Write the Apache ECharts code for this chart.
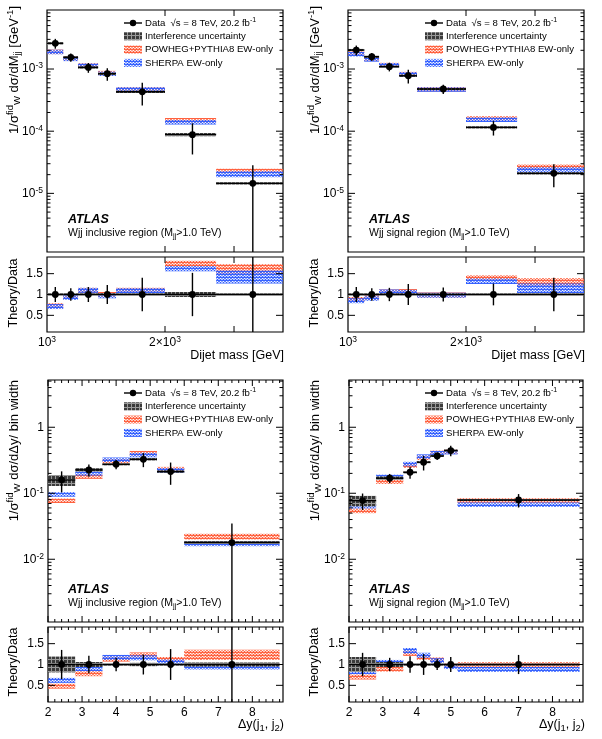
<!DOCTYPE html>
<html><head><meta charset="utf-8">
<script src="https://cdn.jsdelivr.net/npm/echarts@6/dist/echarts.min.js"></script>
<style>html,body{margin:0;padding:0;background:#fff}#c{width:602px;height:739px}</style>
</head><body><div id="c"></div>
<script>
// ---------------- DATA ----------------
const mjjEdges = [1000, 1100, 1200, 1350, 1500, 2000, 2700, 4000];
const dyEdgesIncl = [2.0, 2.8, 3.6, 4.4, 5.2, 6.0, 8.8];
const dyEdgesSig = [2.0, 2.8, 3.6, 4.0, 4.4, 4.8, 5.2, 8.8];

// Top-left: dijet mass, inclusive region
const mjjInclData = [2.59e-3, 1.54e-3, 1.06e-3, 8.4e-4, 4.3e-4, 8.8e-5, 1.45e-5];
const mjjInclDataErr = [0.18, 0.15, 0.18, 0.23, 0.40, 0.52, 0.95];
const mjjInclPowheg = [1.89e-3, 1.49e-3, 1.14e-3, 8.6e-4, 4.7e-4, 1.50e-4, 2.30e-5];
const mjjInclSherpa = [1.88e-3, 1.46e-3, 1.13e-3, 8.4e-4, 4.7e-4, 1.40e-4, 2.05e-5];
const mjjInclPowhegErr = [0.05, 0.05, 0.05, 0.05, 0.04, 0.04, 0.08];
const mjjInclSherpaErr = [0.05, 0.05, 0.05, 0.05, 0.04, 0.04, 0.11];
const mjjInclInterfErr = [0.01, 0.01, 0.01, 0.01, 0.015, 0.06, 0.02];
const mjjInclRatioPowheg = [0.73, 0.95, 1.10, 1.00, 1.10, 1.74, 1.60];
const mjjInclRatioSherpa = [0.71, 0.93, 1.10, 0.97, 1.09, 1.62, 1.42];

// Top-right: dijet mass, signal region
const mjjSigData = [2.02e-3, 1.58e-3, 1.09e-3, 7.8e-4, 4.77e-4, 1.15e-4, 2.1e-5];
const mjjSigDataErr = [0.18, 0.15, 0.16, 0.25, 0.17, 0.26, 0.40];
const mjjSigPowheg = [1.78e-3, 1.46e-3, 1.16e-3, 8.3e-4, 4.75e-4, 1.62e-4, 2.7e-5];
const mjjSigSherpa = [1.73e-3, 1.43e-3, 1.15e-3, 8.2e-4, 4.7e-4, 1.53e-4, 2.4e-5];
const mjjSigPowhegErr = [0.05, 0.05, 0.04, 0.04, 0.03, 0.04, 0.08];
const mjjSigSherpaErr = [0.05, 0.05, 0.04, 0.04, 0.03, 0.05, 0.10];
const mjjSigInterfErr = [0.01, 0.01, 0.01, 0.01, 0.01, 0.015, 0.02];
const mjjSigRatioPowheg = [0.88, 0.93, 1.06, 1.07, 0.99, 1.40, 1.29];
const mjjSigRatioSherpa = [0.85, 0.91, 1.06, 1.05, 0.98, 1.32, 1.15];

// Bottom-left: rapidity separation, inclusive region
const dyInclData = [0.159, 0.226, 0.275, 0.327, 0.213, 0.0179];
const dyInclDataErr = [0.35, 0.21, 0.16, 0.24, 0.37, 0.95];
const dyInclPowheg = [0.077, 0.179, 0.305, 0.405, 0.232, 0.0221];
const dyInclSherpa = [0.096, 0.201, 0.322, 0.380, 0.222, 0.0170];
const dyInclPowhegErr = [0.05, 0.05, 0.04, 0.04, 0.04, 0.10];
const dyInclSherpaErr = [0.05, 0.05, 0.04, 0.04, 0.04, 0.05];
const dyInclInterfErr = [0.19, 0.06, 0.02, 0.04, 0.02, 0.05];
const dyInclRatioPowheg = [0.48, 0.78, 1.13, 1.23, 1.12, 1.23];
const dyInclRatioSherpa = [0.62, 0.90, 1.17, 1.16, 1.06, 0.94];

// Bottom-right: rapidity separation, signal region
const dySigData = [0.0774, 0.169, 0.208, 0.295, 0.368, 0.443, 0.079];
const dySigDataErr = [0.28, 0.16, 0.20, 0.25, 0.13, 0.18, 0.23];
const dySigPowheg = [0.054, 0.150, 0.262, 0.345, 0.410, 0.425, 0.078];
const dySigSherpa = [0.064, 0.177, 0.278, 0.360, 0.405, 0.420, 0.067];
const dySigPowhegErr = [0.06, 0.05, 0.05, 0.05, 0.04, 0.03, 0.02];
const dySigSherpaErr = [0.05, 0.05, 0.05, 0.05, 0.04, 0.03, 0.02];
const dySigInterfErr = [0.18, 0.06, 0.02, 0.02, 0.02, 0.02, 0.02];
const dySigRatioPowheg = [0.70, 0.89, 1.27, 1.17, 1.11, 0.97, 1.00];
const dySigRatioSherpa = [0.83, 1.05, 1.33, 1.22, 1.09, 0.95, 0.88];

// Axis ranges and ticks
const mjjRange = [1000, 4000];
const dyRange = [2, 8.9];
const xsecMjjRange = [1.14e-6, 8.9e-3];
const xsecDyRange = [1.12e-3, 5.2];
const ratioRange = [0.1, 1.9];
const massTickValues = [1000, 2000];
const massTickLabels = ['10{sup|3}', '2×10{sup|3}'];
const massMajorTicks = [2000, 3000];
const dyTickValues = [2, 3, 4, 5, 6, 7, 8];
const dyTickLabels = ['2', '3', '4', '5', '6', '7', '8'];
const ratioTickValues = [0.5, 1, 1.5];
const ratioTickLabels = ['0.5', '1', '1.5'];
const xsecMjjTickValues = [1e-5, 1e-4, 1e-3];
const xsecMjjTickLabels = ['10{sup|-5}', '10{sup|-4}', '10{sup|-3}'];
const xsecDyTickValues = [1e-2, 1e-1, 1];
const xsecDyTickLabels = ['10{sup|-2}', '10{sup|-1}', '1'];

// ---------------- STYLE HELPERS ----------------
const FF = '"Liberation Sans", Arial, Helvetica, sans-serif';
function zigzag(color) {
  const c = document.createElement('canvas'); c.width = 6; c.height = 3;
  const g = c.getContext('2d');
  g.strokeStyle = color; g.lineWidth = 1.4;
  g.beginPath(); g.moveTo(0, 2.4); g.lineTo(1.5, 0.6); g.lineTo(3, 2.4); g.lineTo(4.5, 0.6); g.lineTo(6, 2.4); g.stroke();
  return { image: c, repeat: 'repeat' };
}
function gridPat() {
  const c = document.createElement('canvas'); c.width = 4; c.height = 4;
  const g = c.getContext('2d');
  g.fillStyle = '#3a3a3a'; g.fillRect(0, 0, 4, 4);
  g.fillStyle = '#9a9a9a'; g.fillRect(3, 0, 1, 4); g.fillRect(0, 3, 4, 1);
  return { image: c, repeat: 'repeat' };
}
const redFill = zigzag('rgb(255,95,60)');
const blueFill = zigzag('rgb(50,95,255)');
const interfFill = gridPat();

const rich = {
  sup: { fontSize: 8.5, fontFamily: FF, verticalAlign: 'top', lineHeight: 9 },
  sub: { fontSize: 8.5, fontFamily: FF, verticalAlign: 'bottom', lineHeight: 9 }
};
const richTitle = {
  sup: { fontSize: 9.5, fontFamily: FF, verticalAlign: 'top', lineHeight: 9 },
  sub: { fontSize: 9.5, fontFamily: FF, verticalAlign: 'bottom', lineHeight: 9 }
};

function clampY(y, cs) { return Math.max(cs.y, Math.min(cs.y + cs.height, y)); }

function bandRender(fill, minH) {
  return function (params, api) {
    const cs = params.coordSys;
    const a = api.coord([api.value(0), api.value(3)]);
    const b = api.coord([api.value(1), api.value(2)]);
    let top = a[1], bot = b[1];
    if (bot - top < minH) { const m = (top + bot) / 2; top = m - minH / 2; bot = m + minH / 2; }
    top = clampY(top, cs); bot = clampY(bot, cs);
    return { type: 'rect', shape: { x: a[0], y: top, width: b[0] - a[0], height: bot - top }, style: { fill: fill } };
  };
}
function dataRender(params, api) {
  const cs = params.coordSys;
  const x0 = api.value(0), x1 = api.value(1), c = api.value(2), lo = api.value(3), hi = api.value(4);
  const xm = (x0 + x1) / 2;
  const pL = api.coord([x0, c]), pR = api.coord([x1, c]), pC = api.coord([xm, c]);
  const yLo = clampY(api.coord([xm, lo])[1], cs), yHi = clampY(api.coord([xm, hi])[1], cs);
  return { type: 'group', children: [
    { type: 'line', shape: { x1: pL[0], y1: pL[1], x2: pR[0], y2: pR[1] }, style: { stroke: '#000', lineWidth: 1.4 } },
    { type: 'line', shape: { x1: pC[0], y1: yHi, x2: pC[0], y2: yLo }, style: { stroke: '#000', lineWidth: 1.4 } },
    { type: 'circle', shape: { cx: pC[0], cy: pC[1], r: 3.4 }, style: { fill: '#000' } }
  ] };
}

function custom(gi, rows, render, z, nDim) {
  return { type: 'custom', xAxisIndex: gi, yAxisIndex: gi, z: z, silent: true, animation: false,
    encode: { x: [0, 1], y: nDim === 5 ? [2, 3, 4] : [2, 3] }, data: rows, renderItem: render };
}

function panelSeries(gMain, gRatio, edges, d) {
  const s = [];
  const band = (vals, errs) => vals.map((v, i) => [edges[i], edges[i + 1], v * (1 - errs[i]), v * (1 + errs[i])]);
  s.push(custom(gMain, band(d.powheg, d.powhegErr), bandRender(redFill, 4.5), 2, 4));
  s.push(custom(gMain, band(d.sherpa, d.sherpaErr), bandRender(blueFill, 4.5), 3, 4));
  s.push(custom(gMain, band(d.data, d.interfErr), bandRender(interfFill, 2.2), 4, 4));
  s.push(custom(gMain, d.data.map((v, i) => [edges[i], edges[i + 1], v, v * (1 - d.dataErr[i]), v * (1 + d.dataErr[i])]), dataRender, 5, 5));
  s.push(custom(gRatio, band(d.ratioPowheg, d.powhegErr), bandRender(redFill, 5), 2, 4));
  s.push(custom(gRatio, band(d.ratioSherpa, d.sherpaErr), bandRender(blueFill, 5), 3, 4));
  s.push(custom(gRatio, d.data.map((v, i) => [edges[i], edges[i + 1], 1 - d.interfErr[i], 1 + d.interfErr[i]]), bandRender(interfFill, 2.2), 4, 4));
  s.push(custom(gRatio, d.data.map((v, i) => [edges[i], edges[i + 1], 1, 1 - d.dataErr[i], 1 + d.dataErr[i]]), dataRender, 5, 5));
  return s;
}

function logMinor(range) {
  const out = [];
  for (let n = Math.floor(Math.log10(range[0])); n <= Math.ceil(Math.log10(range[1])); n++)
    for (let k = 2; k <= 9; k++) { const v = k * Math.pow(10, n); if (v > range[0] && v < range[1]) out.push(v); }
  return out;
}
function linMinor(range, step, majors) {
  const out = [];
  for (let v = Math.ceil(range[0] / step) * step; v < range[1]; v += step) {
    const r = Math.round(v * 100) / 100;
    if (!majors.some(m => Math.abs(m - r) < 1e-6)) out.push(r);
  }
  return out;
}

function decor(gi, cfg) {
  return { type: 'custom', xAxisIndex: gi, yAxisIndex: gi, z: 20, silent: true, animation: false,
    data: [[cfg.xr[0], cfg.yr[0]]],
    renderItem(params, api) {
      const cs = params.coordSys, L = cs.x, R = cs.x + cs.width, T = cs.y, B = cs.y + cs.height;
      const ch = [];
      const ln = (x1, y1, x2, y2) => ch.push({ type: 'line', shape: { x1, y1, x2, y2 }, style: { stroke: '#000', lineWidth: 1 } });
      const X = v => api.coord([v, cfg.yr[0]])[0], Y = v => api.coord([cfg.xr[0], v])[1];
      (cfg.xMajor || []).forEach(v => { const x = X(v); ln(x, B, x, B - 6); ln(x, T, x, T + 6); });
      (cfg.xMinor || []).forEach(v => { const x = X(v); ln(x, B, x, B - 3); ln(x, T, x, T + 3); });
      (cfg.yMajor || []).forEach(v => { const y = Y(v); ln(L, y, L + 7, y); ln(R, y, R - 7, y); });
      (cfg.yMinor || []).forEach(v => { const y = Y(v); ln(L, y, L + 3.5, y); ln(R, y, R - 3.5, y); });
      (cfg.xLabels || []).forEach((t, i) => ch.push({ type: 'text', style: { text: t, x: X(cfg.xLabelVals[i]), y: B + 3,
        align: 'center', verticalAlign: 'top', fontSize: 12, fontFamily: FF, lineHeight: 15, fill: '#000', rich } }));
      (cfg.yLabels || []).forEach((t, i) => ch.push({ type: 'text', style: { text: t, x: L - 4, y: Y(cfg.yLabelVals[i]),
        align: 'right', verticalAlign: 'middle', fontSize: 12, fontFamily: FF, lineHeight: 15, fill: '#000', rich } }));
      return { type: 'group', children: ch };
    } };
}

// ---------------- LAYOUT ----------------
const grids = [
  { left: 47, top: 10, width: 236, height: 242 },
  { left: 47, top: 257, width: 236, height: 75 },
  { left: 348, top: 10, width: 236, height: 242 },
  { left: 348, top: 257, width: 236, height: 75 },
  { left: 48, top: 380, width: 235, height: 242 },
  { left: 48, top: 627, width: 235, height: 75 },
  { left: 349, top: 380, width: 234, height: 242 },
  { left: 349, top: 627, width: 234, height: 75 }
].map(g => Object.assign({ show: true, borderColor: '#000', borderWidth: 1.2, backgroundColor: 'transparent', containLabel: false, outerBoundsMode: 'none' }, g));

const hidden = { axisLine: { show: false }, axisTick: { show: false }, axisLabel: { show: false }, splitLine: { show: false } };
const xAxes = [], yAxes = [];
for (let i = 0; i < 8; i++) {
  const isMass = i < 4, isRatio = i % 2 === 1;
  xAxes.push(Object.assign({ gridIndex: i }, hidden, isMass
    ? { type: 'log', logBase: 10, min: mjjRange[0], max: mjjRange[1] }
    : { type: 'value', min: dyRange[0], max: dyRange[1] }));
  yAxes.push(Object.assign({ gridIndex: i }, hidden, isRatio
    ? { type: 'value', min: ratioRange[0], max: ratioRange[1] }
    : { type: 'log', logBase: 10, min: isMass ? xsecMjjRange[0] : xsecDyRange[0], max: isMass ? xsecMjjRange[1] : xsecDyRange[1] }));
}

const series = [].concat(
  panelSeries(0, 1, mjjEdges, { data: mjjInclData, dataErr: mjjInclDataErr, powheg: mjjInclPowheg, sherpa: mjjInclSherpa,
    powhegErr: mjjInclPowhegErr, sherpaErr: mjjInclSherpaErr, interfErr: mjjInclInterfErr, ratioPowheg: mjjInclRatioPowheg, ratioSherpa: mjjInclRatioSherpa }),
  panelSeries(2, 3, mjjEdges, { data: mjjSigData, dataErr: mjjSigDataErr, powheg: mjjSigPowheg, sherpa: mjjSigSherpa,
    powhegErr: mjjSigPowhegErr, sherpaErr: mjjSigSherpaErr, interfErr: mjjSigInterfErr, ratioPowheg: mjjSigRatioPowheg, ratioSherpa: mjjSigRatioSherpa }),
  panelSeries(4, 5, dyEdgesIncl, { data: dyInclData, dataErr: dyInclDataErr, powheg: dyInclPowheg, sherpa: dyInclSherpa,
    powhegErr: dyInclPowhegErr, sherpaErr: dyInclSherpaErr, interfErr: dyInclInterfErr, ratioPowheg: dyInclRatioPowheg, ratioSherpa: dyInclRatioSherpa }),
  panelSeries(6, 7, dyEdgesSig, { data: dySigData, dataErr: dySigDataErr, powheg: dySigPowheg, sherpa: dySigSherpa,
    powhegErr: dySigPowhegErr, sherpaErr: dySigSherpaErr, interfErr: dySigInterfErr, ratioPowheg: dySigRatioPowheg, ratioSherpa: dySigRatioSherpa })
);

const dyMinor = linMinor(dyRange, 0.2, dyTickValues);
for (let i = 0; i < 8; i++) {
  const isMass = i < 4, isRatio = i % 2 === 1;
  const cfg = { xr: isMass ? mjjRange : dyRange, yr: isRatio ? ratioRange : (isMass ? xsecMjjRange : xsecDyRange) };
  if (isMass) { cfg.xMajor = massMajorTicks; } else { cfg.xMajor = dyTickValues; cfg.xMinor = dyMinor; }
  if (isRatio) {
    cfg.yMajor = ratioTickValues; cfg.yLabels = ratioTickLabels; cfg.yLabelVals = ratioTickValues;
    if (isMass) { cfg.xLabels = massTickLabels; cfg.xLabelVals = massTickValues; }
    else { cfg.xLabels = dyTickLabels; cfg.xLabelVals = dyTickValues; }
  } else {
    const r = isMass ? xsecMjjRange : xsecDyRange;
    cfg.yMajor = isMass ? xsecMjjTickValues : xsecDyTickValues; cfg.yMinor = logMinor(r);
    cfg.yLabels = isMass ? xsecMjjTickLabels : xsecDyTickLabels; cfg.yLabelVals = cfg.yMajor;
  }
  series.push(decor(i, cfg));
}

// ---------------- TEXT / LEGEND GRAPHICS ----------------
const elements = [];
function txt(x, y, text, opt) {
  elements.push(Object.assign({ type: 'text', x, y, silent: true, z: 50,
    style: Object.assign({ text, fontSize: 12, fontFamily: FF, fill: '#000', lineHeight: 15, rich }, opt.style || {}) }, opt.el || {}));
}
function legend(x0, y0) {
  const dy = 13.3;
  elements.push({ type: 'line', z: 50, shape: { x1: x0, y1: y0, x2: x0 + 18, y2: y0 }, style: { stroke: '#000', lineWidth: 1.4 } });
  elements.push({ type: 'circle', z: 50, shape: { cx: x0 + 9, cy: y0, r: 3.2 }, style: { fill: '#000' } });
  elements.push({ type: 'rect', z: 50, shape: { x: x0, y: y0 + dy - 4, width: 18, height: 8 }, style: { fill: interfFill } });
  elements.push({ type: 'rect', z: 50, shape: { x: x0, y: y0 + 2 * dy - 4, width: 18, height: 8 }, style: { fill: redFill } });
  elements.push({ type: 'rect', z: 50, shape: { x: x0, y: y0 + 3 * dy - 4, width: 18, height: 8 }, style: { fill: blueFill } });
  const st = { fontSize: 9.6, align: 'left', verticalAlign: 'middle', lineHeight: 13 };
  const r2 = { sup: { fontSize: 7, fontFamily: FF, verticalAlign: 'top', lineHeight: 7 } };
  txt(x0 + 21, y0, 'Data  √s = 8 TeV, 20.2 fb{sup|-1}', { style: Object.assign({}, st, { rich: r2 }) });
  txt(x0 + 21, y0 + dy, 'Interference uncertainty', { style: st });
  txt(x0 + 21, y0 + 2 * dy, 'POWHEG+PYTHIA8 EW-only', { style: st });
  txt(x0 + 21, y0 + 3 * dy, 'SHERPA EW-only', { style: st });
}
legend(124, 23); legend(425, 23); legend(124, 393); legend(425, 393);

function atlas(x, y, region) {
  txt(x, y, 'ATLAS', { style: { fontSize: 12.5, fontWeight: 'bold', fontStyle: 'italic', verticalAlign: 'middle' } });
  txt(x, y + 13.5, 'Wjj ' + region + ' region (M{sub|jj}>1.0 TeV)', { style: { fontSize: 10.5, verticalAlign: 'middle', lineHeight: 13,
    rich: { sub: { fontSize: 7.5, fontFamily: FF, verticalAlign: 'bottom', lineHeight: 7 } } } });
}
atlas(68, 220, 'inclusive'); atlas(369, 220, 'signal'); atlas(68, 590, 'inclusive'); atlas(369, 590, 'signal');

const rot = { rotation: Math.PI / 2 };
const mjjTitle = '1/σ{sup|fid}{sub|W} dσ/dM{sub|jj} [GeV{sup|-1}]';
const dyTitle = '1/σ{sup|fid}{sub|W} dσ/dΔy/ bin width';
const titleStyle = { align: 'right', verticalAlign: 'middle', fontSize: 13, lineHeight: 17, rich: richTitle };
txt(14, 6, mjjTitle, { el: rot, style: titleStyle });
txt(315, 6, mjjTitle, { el: rot, style: titleStyle });
txt(14, 380, dyTitle, { el: rot, style: titleStyle });
txt(315, 380, dyTitle, { el: rot, style: titleStyle });
[[14, 293], [315, 293], [14, 662], [315, 662]].forEach(p =>
  txt(p[0], p[1], 'Theory/Data', { el: rot, style: { align: 'center', verticalAlign: 'middle', fontSize: 12.5 } }));
const xtStyle = { align: 'right', verticalAlign: 'middle', fontSize: 12.5, lineHeight: 16, rich: richTitle };
txt(284, 356, 'Dijet mass [GeV]', { style: xtStyle });
txt(585, 356, 'Dijet mass [GeV]', { style: xtStyle });
txt(284, 725, 'Δy(j{sub|1}, j{sub|2})', { style: xtStyle });
txt(585, 725, 'Δy(j{sub|1}, j{sub|2})', { style: xtStyle });

const chart = echarts.init(document.getElementById('c'), null, { renderer: 'canvas' });
chart.setOption({
  animation: false,
  backgroundColor: '#fff',
  grid: grids,
  xAxis: xAxes,
  yAxis: yAxes,
  series: series,
  graphic: { elements: elements }
});
</script></body></html>
